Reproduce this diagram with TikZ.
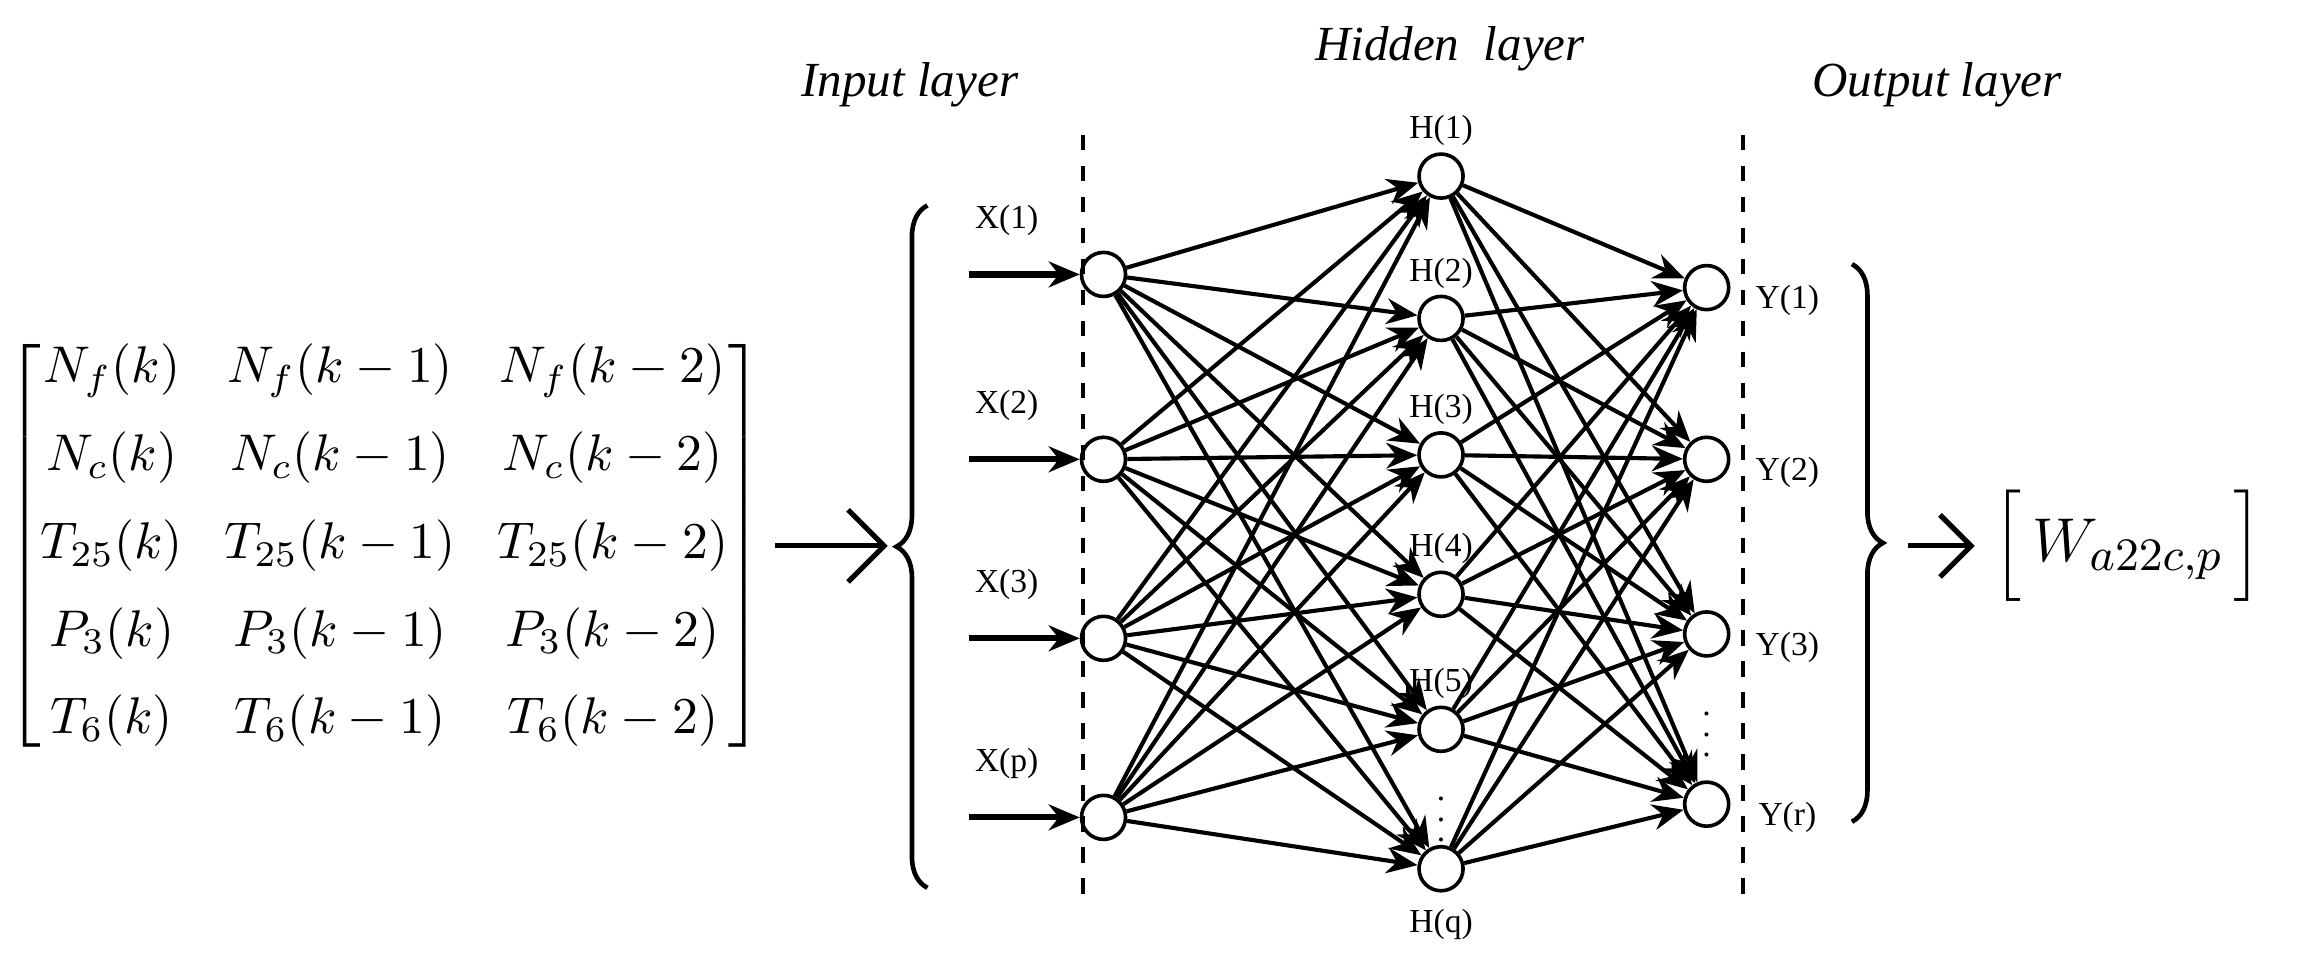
\documentclass[tikz,border=0pt]{standalone}
\usepackage{amsmath}
\usepackage{fontspec}
\setmainfont{Liberation Serif}
\usetikzlibrary{arrows.meta,decorations.pathreplacing}
\tikzstyle{neuron}=[circle,draw=black,fill=white,inner sep=0pt,minimum size=0.3cm,line width=0.7pt]
\tikzstyle{conn}=[line width=0.8pt,-{Stealth[length=6pt,width=5pt]}]
\tikzstyle{lbl}=[font=\fontsize{6.5}{7}\selectfont]
\tikzstyle{ttl}=[font=\fontsize{9.5}{11}\itshape]

\begin{document}
\begin{tikzpicture}[x=0.01cm,y=-0.01cm]
    \useasboundingbox (0,0) rectangle (1568,661);

    % input layer
    \foreach \i/\y/\t in {1/187/1,2/313/2,3/435/3,4/557/p} {
        \node[neuron] (x\i) at (752,\y) {};
        \coordinate (s\i) at (660,\y);
        \node[lbl] (xl\i) at (686,\y-37) {X(\t)};
    }
    % hidden layer
    \foreach \i/\y/\t in {1/120/1,2/217/2,3/310/3,4/405/4,5/497/5} {
        \node[neuron] (h\i) at (982,\y) {};
        \node[lbl] (hl\i) at (982,\y-31) {H(\t)};
    }
    \node[neuron] (h6) at (982,592) {};
    \node[lbl] (hl6) at (982,630) {H(q)};
    \node[lbl] (hd) at (982,548) {$\vdots$};
    % output layer
    \foreach \i/\y/\t in {1/196/1,2/313/2,3/432/3,4/548/r} {
        \node[neuron] (y\i) at (1163,\y) {};
        \node[lbl] (yl\i) at (1218,\y+9) {Y(\t)};
    }
    \node[lbl] (yd) at (1163,490) {$\vdots$};

    \foreach \i in {1,...,4} {
        \draw[conn,line width=1.2pt] (s\i) -- (x\i);
        \foreach \j in {1,...,6}
            \draw[conn] (x\i) -- (h\j);
    }
    \foreach \j in {1,...,6}
        \foreach \k in {1,...,4}
            \draw[conn] (h\j) -- (y\k);

    \draw[dashed,line width=0.8pt] (738,92) -- (738,612);
    \draw[dashed,line width=0.8pt] (1188,92) -- (1188,612);

    \node[ttl] (ti) at (620,58) {Input layer};
    \node[ttl] (th) at (988,33) {Hidden\ \ layer};
    \node[ttl] (to) at (1320,58) {Output layer};

    % matrix and braces
    \node[inner sep=0pt] (mat) at (262,372) {\fontsize{10}{12}\selectfont\setlength\arraycolsep{4pt}$\begin{bmatrix}
        N_f(k) & N_f(k-1) & N_f(k-2)\\[5pt]
        N_c(k) & N_c(k-1) & N_c(k-2)\\[5pt]
        T_{25}(k) & T_{25}(k-1) & T_{25}(k-2)\\[5pt]
        P_3(k) & P_3(k-1) & P_3(k-2)\\[5pt]
        T_6(k) & T_6(k-1) & T_6(k-2)
    \end{bmatrix}$};
    \coordinate (b1) at (632,605);
    \coordinate (b2) at (632,140);
    \draw[line width=0.9pt,decorate,decoration={brace,amplitude=6pt}] (b1) -- (b2);
    \coordinate (b3) at (1262,180);
    \coordinate (b4) at (1262,560);
    \draw[line width=0.9pt,decorate,decoration={brace,amplitude=6pt}] (b3) -- (b4);
    \node (w) at (1450,372) {\fontsize{13}{15}\selectfont$\Bigl[\,W_{a22c,p}\,\Bigr]$};
    \coordinate (m1) at (528,372);
    \coordinate (m2) at (605,372);
    \draw[line width=1pt,-{Straight Barb[length=7pt]}] (m1) -- (m2);
    \coordinate (w1) at (1300,372);
    \draw[line width=1pt,-{Straight Barb[length=6pt]}] (w1) -- (w.west);
\end{tikzpicture}
\end{document}
